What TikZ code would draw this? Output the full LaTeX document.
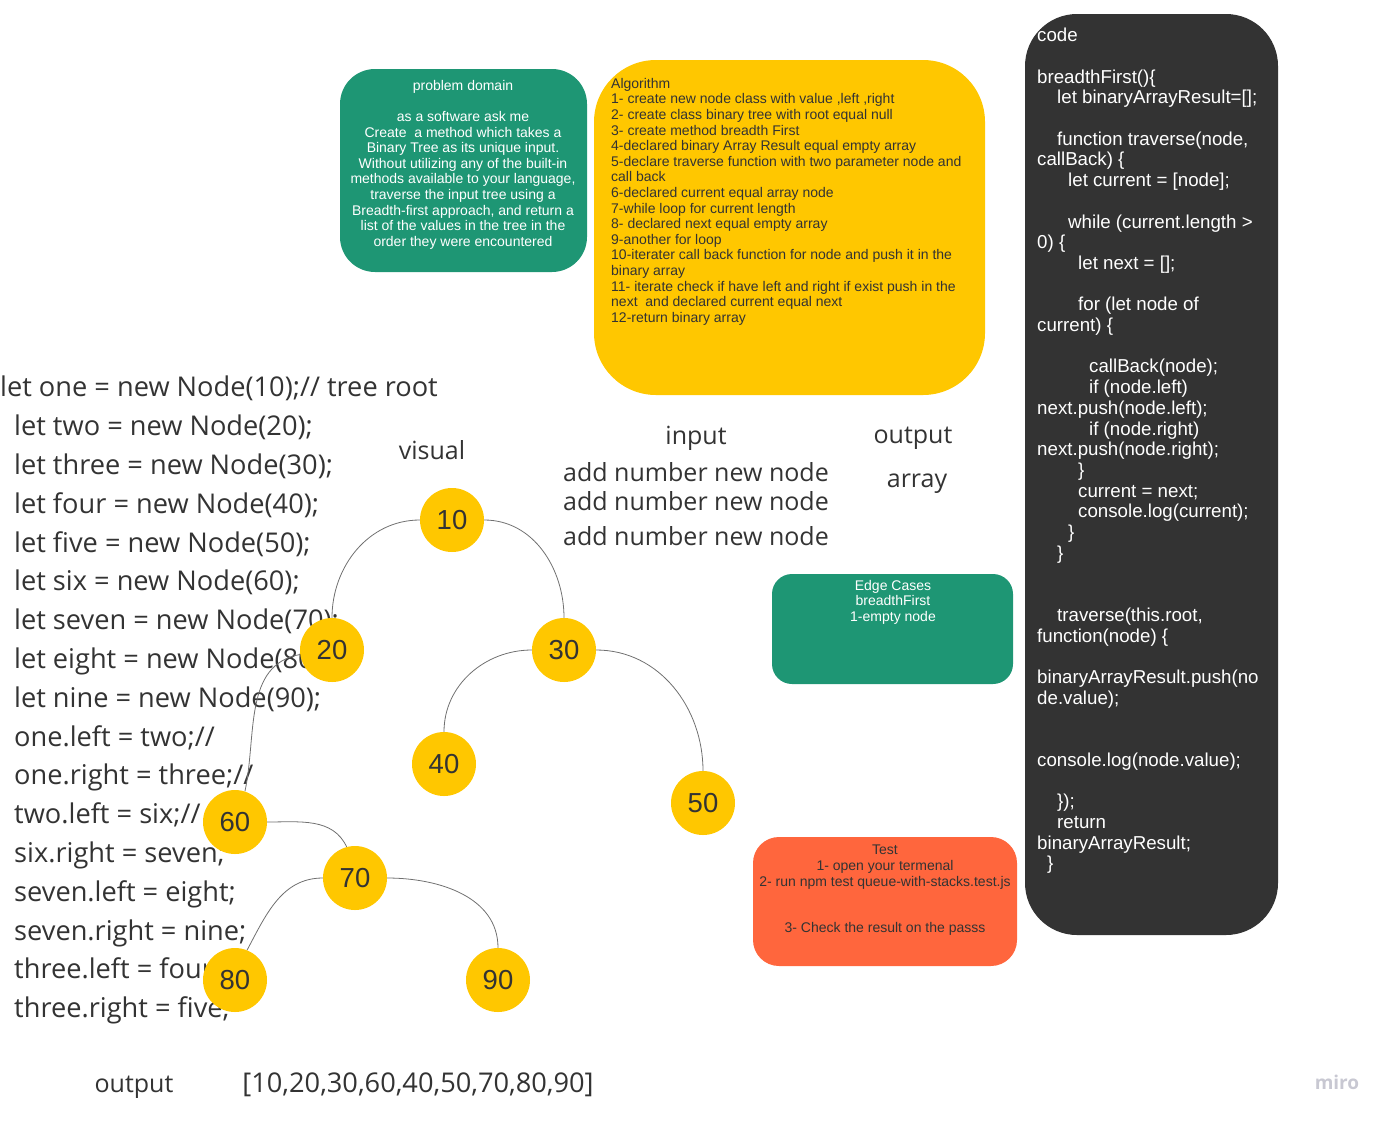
\documentclass[tikz,border=0pt]{standalone}
\usepackage{fontspec}
\setmainfont{Liberation Sans}
\newfontfamily\opensans{Open Sans}
\usetikzlibrary{positioning}
\pgfdeclarelayer{textlayer}
\pgfdeclarelayer{edgelayer}
\pgfsetlayers{textlayer,edgelayer,main}
\definecolor{miroteal}{RGB}{30,150,116}
\definecolor{miroyellow}{RGB}{255,199,0}
\definecolor{mirodark}{RGB}{51,51,51}
\definecolor{miroorange}{RGB}{255,102,61}
\definecolor{inktext}{RGB}{51,51,51}
\definecolor{edgegray}{RGB}{112,112,112}
\definecolor{logogray}{RGB}{200,200,210}
\tikzset{
  card/.style={rectangle, inner sep=0pt},
  stickytext/.style={inner sep=0pt, font=\fontsize{14}{15.6}\selectfont},
  codetext/.style={inner sep=0pt, text=white, align=left, font=\fontsize{18.7}{20.7}\selectfont},
  bigtext/.style={inner sep=0pt, text=inktext, font=\opensans\fontsize{25}{38.8}\selectfont},
  bigcode/.style={inner sep=0pt, text=inktext, font=\opensans\fontsize{27.2}{38.8}\selectfont},
  treenode/.style={circle, fill=miroyellow, minimum size=64pt, inner sep=0pt, text=inktext, font=\fontsize{27.5}{27.5}\selectfont},
  treeedge/.style={draw=edgegray, line width=0.8pt},
}

\begin{document}
\begin{tikzpicture}[x=1pt, y=-1pt]
  \useasboundingbox (0,0) rectangle (1391,1122);

  % cards
  \node[card, fill=miroteal, minimum width=247pt, minimum height=203pt, rounded corners=35pt] (domain) at (463.5,170.5) {};
  \node[stickytext, text=white, align=center, anchor=north] (domaintext) at (463,80) {problem domain\\
    \mbox{}\\
    as a software ask me\\
    Create\ \ a method which takes a\\
    Binary Tree as its unique input.\\
    Without utilizing any of the built-in\\
    methods available to your language,\\
    traverse the input tree using a\\
    Breadth-first approach, and return a\\
    list of the values in the tree in the\\
    order they were encountered};

  \node[card, fill=miroyellow, minimum width=391pt, minimum height=335pt, rounded corners=62pt] (algo) at (789.5,227.5) {};
  \node[stickytext, text=inktext, align=left, anchor=north west] (algotext) at (611,78) {Algorithm\\
    1- create new node class with value ,left ,right\\
    2- create class binary tree with root equal null\\
    3- create method breadth First\\
    4-declared binary Array Result equal empty array\\
    5-declare traverse function with two parameter node and\\
    call back\\
    6-declared current equal array node\\
    7-while loop for current length\\
    8- declared next equal empty array\\
    9-another for loop\\
    10-iterater call back function for node and push it in the\\
    binary array\\
    11- iterate check if have left and right if exist push in the\\
    next\ \ and declared current equal next\\
    12-return binary array};

  \node[card, fill=mirodark, minimum width=253pt, minimum height=921pt, rounded corners=52pt] (code) at (1151.5,474.5) {};
  \node[codetext, anchor=north west] (codelines) at (1037,28) {code\\
    \mbox{}\\
    breadthFirst()\{\\
    \hspace*{20pt}let binaryArrayResult=[];\\
    \mbox{}\\
    \hspace*{20pt}function traverse(node,\\
    callBack) \{\\
    \hspace*{31pt}let current = [node];\\
    \mbox{}\\
    \hspace*{31pt}while (current.length >\\
    0) \{\\
    \hspace*{41pt}let next = [];\\
    \mbox{}\\
    \hspace*{41pt}for (let node of\\
    current) \{\\
    \mbox{}\\
    \hspace*{52pt}callBack(node);\\
    \hspace*{52pt}if (node.left)\\
    next.push(node.left);\\
    \hspace*{52pt}if (node.right)\\
    next.push(node.right);\\
    \hspace*{41pt}\}\\
    \hspace*{41pt}current = next;\\
    \hspace*{41pt}console.log(current);\\
    \hspace*{31pt}\}\\
    \hspace*{20pt}\}\\
    \mbox{}\\
    \mbox{}\\
    \hspace*{20pt}traverse(this.root,\\
    function(node) \{\\
    \mbox{}\\
    binaryArrayResult.push(no\\
    de.value);\\
    \mbox{}\\
    \mbox{}\\
    console.log(node.value);\\
    \mbox{}\\
    \hspace*{20pt}\});\\
    \hspace*{20pt}return\\
    binaryArrayResult;\\
    \hspace*{10pt}\}};

  \node[card, fill=miroteal, minimum width=241pt, minimum height=110pt, rounded corners=20pt] (edge) at (892.5,629) {};
  \node[stickytext, text=white, align=center, anchor=north] (edgetext) at (893,580) {Edge Cases\\
    breadthFirst\\
    1-empty node};

  \node[card, fill=miroorange, minimum width=264pt, minimum height=129pt, rounded corners=26pt] (test) at (885,901.5) {};
  \node[stickytext, text=inktext, align=center, anchor=north] (testtext) at (885,845) {Test\\
    1- open your termenal\\
    2- run npm test queue-with-stacks.test.js\\
    \mbox{}\\
    \mbox{}\\
    3- Check the result on the passs};

  % sample tree code, under the tree
  \begin{pgfonlayer}{textlayer}
  \node[bigcode, align=left, anchor=north west] (treecode) at (0,376) {let one = new Node(10);// tree root\\
    \hspace*{14pt}let two = new Node(20);\\
    \hspace*{14pt}let three = new Node(30);\\
    \hspace*{14pt}let four = new Node(40);\\
    \hspace*{14pt}let five = new Node(50);\\
    \hspace*{14pt}let six = new Node(60);\\
    \hspace*{14pt}let seven = new Node(70);\\
    \hspace*{14pt}let eight = new Node(80);\\
    \hspace*{14pt}let nine = new Node(90);\\
    \hspace*{14pt}one.left = two;//\\
    \hspace*{14pt}one.right = three;//\\
    \hspace*{14pt}two.left = six;//\\
    \hspace*{14pt}six.right = seven;\\
    \hspace*{14pt}seven.left = eight;\\
    \hspace*{14pt}seven.right = nine;\\
    \hspace*{14pt}three.left = four;\\
    \hspace*{14pt}three.right = five;};
  \end{pgfonlayer}

  % labels
  \node[bigtext] (visual) at (432,450) {visual};
  \node[bigtext] (input) at (696,438) {input};
  \node[bigtext] (addone) at (696,472) {add number new node};
  \node[bigtext] (addtwo) at (696,501) {add number new node};
  \node[bigtext] (addthree) at (696,536) {add number new node};
  \node[bigtext] (output) at (913,438) {output};
  \node[bigtext] (array) at (917,484) {array};
  \node[bigtext] (resultlabel) at (134,1087) {output};
  \node[bigcode] (result) at (418,1085) {[10,20,30,60,40,50,70,80,90]};
  \node[inner sep=0pt, text=logogray, font=\opensans\bfseries\fontsize{19}{19}\selectfont] (logo) at (1337,1082) {miro};

  % tree
  \node[treenode] (n10) at (452,520) {10};
  \node[treenode] (n20) at (332,650) {20};
  \node[treenode] (n30) at (564,650) {30};
  \node[treenode] (n40) at (444,764) {40};
  \node[treenode] (n50) at (703,803) {50};
  \node[treenode] (n60) at (235,822) {60};
  \node[treenode] (n70) at (355,878) {70};
  \node[treenode] (n80) at (235,980) {80};
  \node[treenode] (n90) at (498,980) {90};

  \begin{pgfonlayer}{edgelayer}
  \draw[treeedge] (n10.west) to[out=180, in=90] (n20.north);
  \draw[treeedge] (n10.east) to[out=0, in=90] (n30.north);
  \draw[treeedge] (n30.west) to[out=180, in=90] (n40.north);
  \draw[treeedge] (n30.east) to[out=0, in=90] (n50.north);
  \draw[treeedge] (n20.188) to[out=190, in=78] (n60.72);
  \draw[treeedge] (n60.east) to[out=0, in=115] (n70.105);
  \draw[treeedge] (n70.west) to[out=180, in=62] (n80.68);
  \draw[treeedge] (n70.east) to[out=0, in=90] (n90.north);
  \end{pgfonlayer}
\end{tikzpicture}
\end{document}
